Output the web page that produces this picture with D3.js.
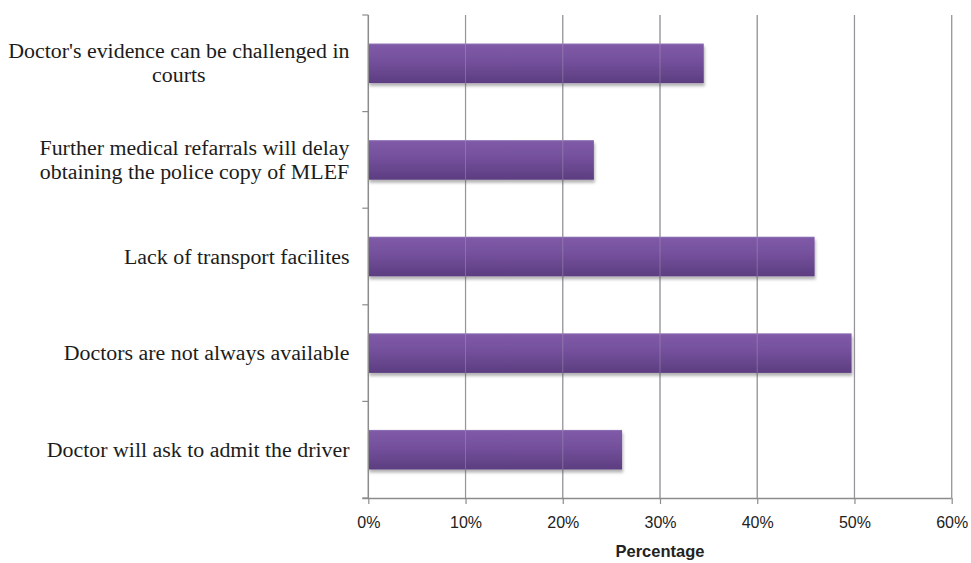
<!DOCTYPE html>
<html>
<head>
<meta charset="utf-8">
<script src="https://cdn.jsdelivr.net/npm/d3@7"></script>
<style>
  html, body { margin: 0; padding: 0; background: #ffffff; }
  svg { display: block; }
  .cat { font-family: "Liberation Serif", "Times New Roman", Tinos, "DejaVu Serif", serif; }
</style>
</head>
<body>
<svg id="chart" width="971" height="563"></svg>
<script>
// ---- data ----
const categories = [
  ["Doctor's evidence can be challenged in", "courts"],
  ["Further medical refarrals will delay", "obtaining the police copy of MLEF"],
  ["Lack of transport facilites"],
  ["Doctors are not always available"],
  ["Doctor will ask to admit the driver"]
];
const values = [34.5, 23.2, 45.9, 49.7, 26.1];
const xTicks = [0, 10, 20, 30, 40, 50, 60];
const xTickLabels = ["0%", "10%", "20%", "30%", "40%", "50%", "60%"];
const xTitle = "Percentage";

// ---- layout ----
const plotLeft = 368.3, plotRight = 951.7, plotTop = 15, plotBottom = 498;
const svg = d3.select("#chart");

const x = d3.scaleLinear().domain([0, 60]).range([plotLeft, plotRight]);
const y = d3.scaleBand().domain(d3.range(categories.length))
  .range([plotTop, plotBottom]).paddingInner(0.59).paddingOuter(0.295);
const yStep = y.step();

// defs
const defs = svg.append("defs");
const grad = defs.append("linearGradient").attr("id", "barGrad")
  .attr("x1", 0).attr("y1", 0).attr("x2", 0).attr("y2", 1);
grad.append("stop").attr("offset", "0%").attr("stop-color", "#9479b8");
grad.append("stop").attr("offset", "4%").attr("stop-color", "#7f5aa7");
grad.append("stop").attr("offset", "45%").attr("stop-color", "#74509c");
grad.append("stop").attr("offset", "100%").attr("stop-color", "#5c3d80");
const filt = defs.append("filter").attr("id", "shadow")
  .attr("x", "-5%").attr("y", "-20%").attr("width", "110%").attr("height", "150%");
filt.append("feDropShadow").attr("dx", 1).attr("dy", 3)
  .attr("stdDeviation", 1.6).attr("flood-color", "#000").attr("flood-opacity", 0.3);

// gridlines (under bars)
svg.append("g").selectAll("line").data(xTicks.slice(1)).join("line")
  .attr("x1", d => x(d)).attr("x2", d => x(d))
  .attr("y1", plotTop).attr("y2", plotBottom)
  .attr("stroke", "#8c8c8c").attr("stroke-width", 1.2);

// bars
svg.append("g").selectAll("rect").data(values).join("rect")
  .attr("x", x(0))
  .attr("y", (d, i) => y(i))
  .attr("width", d => x(d) - x(0))
  .attr("height", y.bandwidth())
  .attr("fill", "url(#barGrad)")
  .attr("filter", "url(#shadow)");

// gridlines overlay (show faintly through bars)
svg.append("g").selectAll("line").data(xTicks.slice(1)).join("line")
  .attr("x1", d => x(d)).attr("x2", d => x(d))
  .attr("y1", plotTop).attr("y2", plotBottom)
  .attr("stroke", "#a8a0b4").attr("stroke-opacity", 0.45).attr("stroke-width", 1);

// x axis
const xAxis = d3.axisBottom(x).tickValues(xTicks)
  .tickFormat((d, i) => xTickLabels[i]).tickSize(6).tickSizeOuter(0);
const xg = svg.append("g").attr("transform", `translate(0,${plotBottom})`).call(xAxis);
xg.select(".domain").attr("stroke", "#8c8c8c").attr("stroke-width", 1.5)
  .attr("d", `M${plotLeft - 6},0.5H${plotRight}`);
xg.selectAll(".tick line").attr("stroke", "#8c8c8c").attr("stroke-width", 1.2);
xg.selectAll(".tick text")
  .style("font-family", "'Liberation Sans', Arial, sans-serif")
  .attr("font-size", 16).attr("fill", "#222").attr("dy", 0).attr("y", 30);

// y axis line and ticks
const yTickPos = d3.range(categories.length + 1).map(i => plotTop + i * yStep);
svg.append("line").attr("x1", plotLeft).attr("x2", plotLeft).attr("y1", plotTop).attr("y2", plotBottom)
  .attr("stroke", "#8c8c8c").attr("stroke-width", 1.5);
svg.append("g").selectAll("line").data(yTickPos).join("line")
  .attr("x1", plotLeft - 6).attr("x2", plotLeft).attr("y1", d => d).attr("y2", d => d)
  .attr("stroke", "#8c8c8c").attr("stroke-width", 1.2);

// y category labels
const labelRight = 349.5;
const lineH = 24;
const lg = svg.append("g").attr("class", "cat")
  .style("font-size", "21.9px").attr("fill", "#1c1c1c");
categories.forEach((lines, i) => {
  const cy = y(i) + y.bandwidth() / 2;
  const g = lg.append("g");
  const texts = lines.map((t, j) => g.append("text")
    .attr("class", "cat")
    .attr("y", cy + (j - (lines.length - 1) / 2) * lineH)
    .attr("dy", "0.32em")
    .text(t));
  const widths = texts.map(t => t.node().getComputedTextLength());
  const W = d3.max(widths);
  texts.forEach(t => t.attr("text-anchor", "middle").attr("x", labelRight - W / 2));
});

// x title
svg.append("text")
  .attr("x", (plotLeft + plotRight) / 2).attr("y", 557)
  .attr("text-anchor", "middle")
  .style("font-family", "'Liberation Sans', Arial, sans-serif")
  .attr("font-weight", "bold").attr("font-size", 16.5).attr("fill", "#222")
  .text(xTitle);
</script>
</body>
</html>
